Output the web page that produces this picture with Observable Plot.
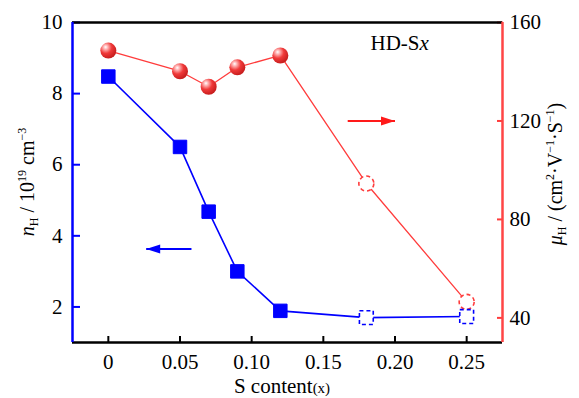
<!DOCTYPE html>
<html>
<head>
<meta charset="utf-8">
<script src="https://cdn.jsdelivr.net/npm/d3@7"></script>
<script src="https://cdn.jsdelivr.net/npm/@observablehq/plot@0.6"></script>
<style>
  html, body { margin: 0; padding: 0; background: #fff; }
  #chart { width: 579px; height: 398px; }
</style>
</head>
<body>
<div id="chart"></div>
<script>
// ---- data ----
const sContent = [0, 0.05, 0.07, 0.09, 0.12, 0.18, 0.25];
const nH = [8.48, 6.5, 4.68, 3.0, 1.89, 1.70, 1.73];          // 10^19 cm^-3 (left axis)
const muH = [148.6, 140.2, 133.9, 141.8, 146.6, 94.6, 46.5];  // cm^2 V^-1 S^-1 (right axis)
const measured = [true, true, true, true, true, false, false]; // open dashed markers = false
const xTicks = [0, 0.05, 0.10, 0.15, 0.20, 0.25];
const nTicks = [2, 4, 6, 8, 10];
const muTicks = [40, 80, 120, 160];
const xDomain = [-0.025, 0.275];
const nDomain = [1, 10];
const muDomain = [30, 160];
const redArrow = {x1: 0.167, x2: 0.2, mu: 120};
const blueArrow = {x1: 0.058, x2: 0.0264, n: 3.63};
const seriesLabel = {x: 0.2036, n: 9.35};

// map right-axis values into left scale
const toN = mu => nDomain[0] + (mu - muDomain[0]) * (nDomain[1] - nDomain[0]) / (muDomain[1] - muDomain[0]);
const fromN = n => muDomain[0] + (n - nDomain[0]) * (muDomain[1] - muDomain[0]) / (nDomain[1] - nDomain[0]);

const rows = sContent.map((x, i) => ({x, n: nH[i], m: toN(muH[i]), filled: measured[i]}));
const filledRows = rows.filter(d => d.filled);
const openRows = rows.filter(d => !d.filled);

const BLUE = "#0000ff";
const RED = "#ff3c3c";
const FONT = "'Liberation Serif', 'Times New Roman', serif";

// filled arrow head, tip at origin, pointing right
const arrowHead = {
  draw(context) {
    context.moveTo(0, 0);
    context.lineTo(-14, -4.5);
    context.lineTo(-14, 4.5);
    context.closePath();
  }
};

const plot = Plot.plot({
  width: 579,
  height: 398,
  marginTop: 22,
  marginBottom: 56,
  marginLeft: 72,
  marginRight: 77,
  style: {fontFamily: FONT, fontSize: "21px", color: "black", background: "white"},
  x: {domain: xDomain},
  y: {domain: nDomain},
  marks: [
    // axes
    Plot.axisY(nTicks, {anchor: "left", tickSize: -8, tickPadding: 18, stroke: BLUE, strokeWidth: 2, fill: "black", label: null, fontSize: 21, tickFormat: d => String(d)}),
    Plot.axisY(muTicks.map(toN), {anchor: "right", tickSize: -6, tickPadding: 13, stroke: RED, strokeWidth: 2, fill: "black", label: null, fontSize: 21, tickFormat: d => String(Math.round(fromN(d)))}),
    Plot.axisX(xTicks, {anchor: "bottom", tickSize: -6, tickPadding: 18, strokeWidth: 2, label: null, fontSize: 21, tickFormat: d => d === 0 ? "0" : d.toFixed(2)}),
    // lines
    Plot.line(rows, {x: "x", y: "m", stroke: RED, strokeWidth: 1.3}),
    Plot.line(rows, {x: "x", y: "n", stroke: BLUE, strokeWidth: 1.6}),
    // markers
    Plot.dot(filledRows, {x: "x", y: "m", r: 8, fill: "url(#sphere)", stroke: "none"}),
    Plot.dot(openRows, {x: "x", y: "m", r: 7.5, fill: "white", stroke: RED, strokeWidth: 1.6, strokeDasharray: "4,3"}),
    Plot.dot(filledRows, {x: "x", y: "n", symbol: "square", r: 7.6, fill: BLUE, stroke: BLUE, strokeWidth: 1}),
    Plot.dot(openRows, {x: "x", y: "n", symbol: "square", r: 7.8, fill: "white", stroke: BLUE, strokeWidth: 1.6, strokeDasharray: "4,3"}),
    // arrows
    Plot.link([redArrow], {x1: "x1", x2: "x2", y1: d => toN(d.mu), y2: d => toN(d.mu), stroke: "#ff1a1a", strokeWidth: 2}),
    Plot.dot([redArrow], {x: "x2", y: d => toN(d.mu), symbol: arrowHead, fill: "#ff1a1a", stroke: "none"}),
    Plot.link([blueArrow], {x1: "x1", x2: "x2", y1: "n", y2: "n", stroke: BLUE, strokeWidth: 2}),
    Plot.dot([blueArrow], {x: "x2", y: "n", symbol: arrowHead, rotate: 180, fill: BLUE, stroke: "none"}),
    // frame
    Plot.ruleY([nDomain[0], nDomain[1]], {stroke: "black", strokeWidth: 2.5}),
    Plot.ruleX([xDomain[0]], {stroke: BLUE, strokeWidth: 2.5}),
    Plot.ruleX([xDomain[1]], {stroke: "#ff4545", strokeWidth: 2.5})
  ]
});

const svg = d3.select(plot);
const defs = svg.insert("defs", ":first-child");
const grad = defs.append("radialGradient").attr("id", "sphere")
  .attr("cx", "0.35").attr("cy", "0.32").attr("r", "0.75").attr("fx", "0.33").attr("fy", "0.28");
grad.append("stop").attr("offset", "0").attr("stop-color", "#ffffff");
grad.append("stop").attr("offset", "0.18").attr("stop-color", "#ffb4b4");
grad.append("stop").attr("offset", "0.5").attr("stop-color", "#f03a3a");
grad.append("stop").attr("offset", "1").attr("stop-color", "#c01818");

const sx = plot.scale("x"), sy = plot.scale("y");

// series label HD-Sx
const t = svg.append("text").attr("x", sx.apply(seriesLabel.x)).attr("y", sy.apply(seriesLabel.n))
  .attr("text-anchor", "middle").attr("dominant-baseline", "middle")
  .attr("font-size", 21).attr("fill", "black");
t.append("tspan").text("HD-S");
t.append("tspan").attr("font-style", "italic").text("x");

// x axis title
const xt = svg.append("text").attr("x", 282).attr("y", 393).attr("text-anchor", "middle")
  .attr("font-size", 21).attr("fill", "black");
xt.append("tspan").text("S content");
xt.append("tspan").attr("font-size", 15).text("(x)");

const yMid = (22 + 342) / 2;

// left title
const lt = svg.append("text").attr("transform", `translate(34,${yMid}) rotate(-90)`)
  .attr("text-anchor", "middle").attr("font-size", 20).attr("fill", "black");
lt.append("tspan").attr("font-style", "italic").text("n");
lt.append("tspan").attr("font-size", 12).attr("dy", 4).text("H");
lt.append("tspan").attr("dy", -4).text(" / 10");
lt.append("tspan").attr("font-size", 12).attr("dy", -8).text("19");
lt.append("tspan").attr("dy", 8).text(" cm");
lt.append("tspan").attr("font-size", 12).attr("dy", -8).text("−3");

// right title
const rt = svg.append("text").attr("transform", `translate(562,${yMid - 8}) rotate(-90)`)
  .attr("text-anchor", "middle").attr("font-size", 20).attr("fill", "black");
rt.append("tspan").attr("font-style", "italic").text("μ");
rt.append("tspan").attr("font-size", 12).attr("dy", 4).text("H");
rt.append("tspan").attr("dy", -4).text(" / (cm");
rt.append("tspan").attr("font-size", 12).attr("dy", -8).text("2");
rt.append("tspan").attr("dy", 8).text("·V");
rt.append("tspan").attr("font-size", 12).attr("dy", -8).text("−1");
rt.append("tspan").attr("dy", 8).text("·S");
rt.append("tspan").attr("font-size", 12).attr("dy", -8).text("−1");
rt.append("tspan").attr("dy", 8).text(")");

// force the serif face on every text element (inline style wins over Plot's class style)
svg.selectAll("text").style("font-family", "Liberation Serif").style("font-variant", "normal");

document.getElementById("chart").append(plot);
</script>
</body>
</html>
